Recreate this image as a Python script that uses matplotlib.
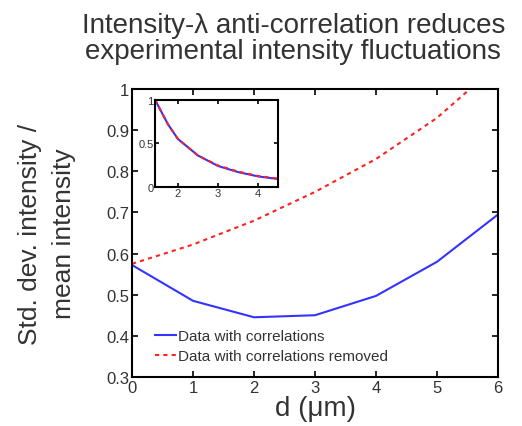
import matplotlib.pyplot as plt

plt.rcParams['font.family'] = ['Liberation Sans', 'DejaVu Sans']

# main data
d = [0, 1, 2, 3, 4, 5, 6]
with_corr = [0.572, 0.485, 0.445, 0.45, 0.497, 0.58, 0.695]
corr_removed = [0.575, 0.622, 0.68, 0.75, 0.83, 0.93, 1.06]

# inset data
inset_x = [1.43, 1.75, 2.0, 2.5, 3.0, 3.5, 4.0, 4.5]
inset_with = [1.0, 0.72, 0.55, 0.36, 0.24, 0.17, 0.12, 0.09]
inset_removed = [1.0, 0.72, 0.55, 0.36, 0.245, 0.175, 0.125, 0.095]

txt = '#333333'

fig = plt.figure(figsize=(5.22, 4.27), dpi=100)
ax = fig.add_axes([0.253, 0.115, 0.701, 0.674])

ax.plot(d, with_corr, color='#3333ff', lw=1.5, label='Data with correlations')
ax.plot(d, corr_removed, color='#ff2020', lw=1.5, ls=(0, (2, 2)), label='Data with correlations removed')
ax.set_xlim(0, 6)
ax.set_ylim(0.3, 1)
ax.set_xticks(d)
ax.set_yticks([0.3, 0.4, 0.5, 0.6, 0.7, 0.8, 0.9, 1])
ax.set_yticklabels(['0.3', '0.4', '0.5', '0.6', '0.7', '0.8', '0.9', '1'])
ax.tick_params(direction='in', top=True, right=True, labelsize=12, length=4, width=1.2,
               labelcolor=txt, pad=2)
for s in ax.spines.values():
    s.set_linewidth(1.5)
ax.set_xlabel('d (\u03bcm)', fontsize=20, labelpad=0, color=txt)
ax.set_ylabel('Std. dev. intensity /\nmean intensity', fontsize=19, labelpad=22,
              color=txt, linespacing=1.5)
ax.legend(loc='lower left', frameon=False, fontsize=11, handlelength=1.4,
          handletextpad=0.1, bbox_to_anchor=(0.025, 0.0), labelspacing=0.4,
          labelcolor=txt)

fig.text(0.562, 0.97, 'Intensity-\u03bb anti-correlation reduces\nexperimental intensity fluctuations',
         ha='center', va='top', fontsize=20, color=txt, linespacing=1.0)

# inset
ins = fig.add_axes([0.297, 0.56, 0.236, 0.204])
ins.plot(inset_x, inset_with, color='#3333ff', lw=1.5)
ins.plot(inset_x, inset_removed, color='#ff2020', lw=1.5, ls=(0, (2, 2)))
ins.set_xlim(1.43, 4.5)
ins.set_ylim(0, 1)
ins.set_xticks([2, 3, 4])
ins.set_yticks([0, 0.5, 1])
ins.set_yticklabels(['0', '0.5', '1'])
ins.tick_params(direction='in', top=True, right=True, labelsize=8, length=3, width=1.2,
                pad=1, labelcolor=txt)
for s in ins.spines.values():
    s.set_linewidth(1.5)

fig.savefig('out.png', dpi=100)
